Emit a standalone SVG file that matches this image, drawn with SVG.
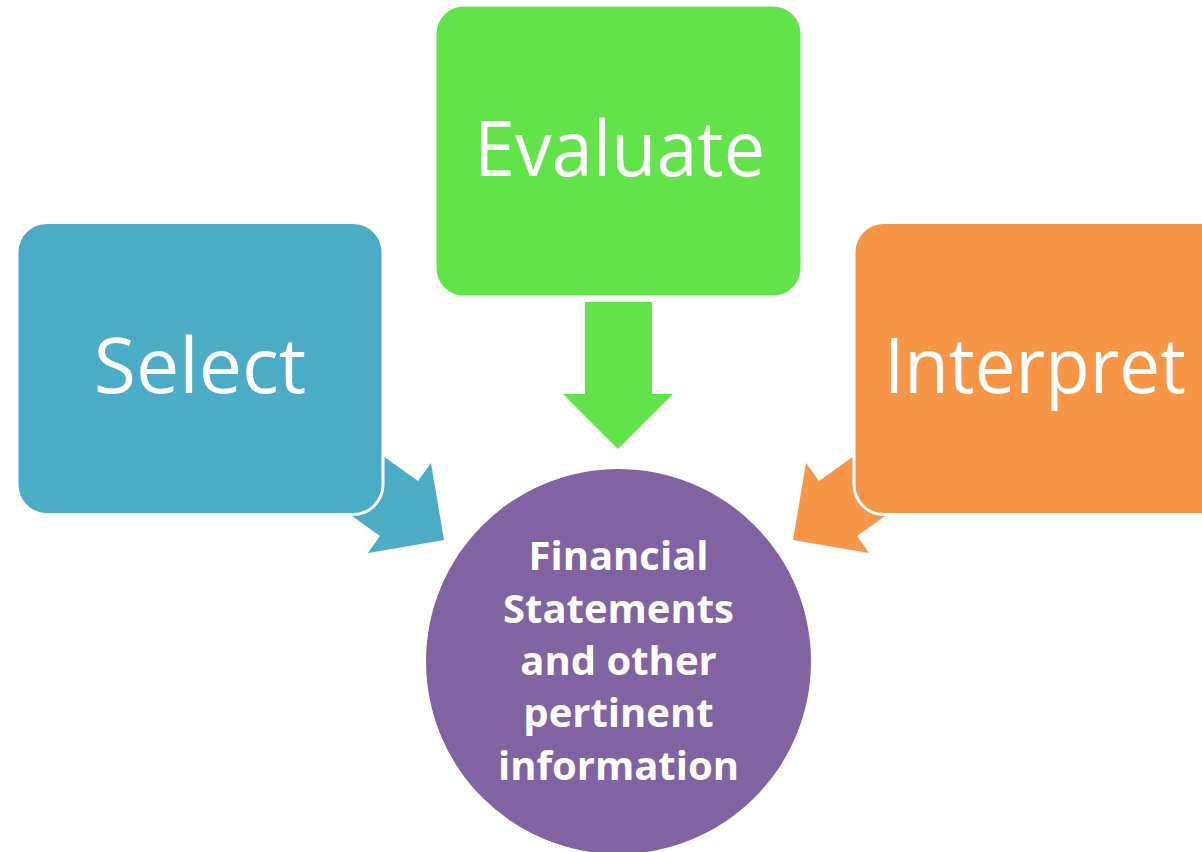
<svg xmlns="http://www.w3.org/2000/svg" width="1202" height="852" viewBox="0 0 1202 852">
<style>
.box{stroke:#FFFFFF;stroke-width:3}
.lbl{font-family:"Open Sans","Liberation Sans",sans-serif;font-size:77px;fill:#FFFFFF}
.ctr{font-family:"Open Sans","Liberation Sans",sans-serif;font-size:40px;font-weight:bold;fill:#FFFFFF;text-anchor:middle}
</style>
<rect width="1202" height="852" fill="#FFFFFF"/>
<g id="connectors">
<polygon id="arrow-select" fill="#4BACC6" points="369,446 418,481 431,463 444,540 368,553 380,536 331,501"/>
<polygon id="arrow-interpret" fill="#F79646" points="868,446 819,481 806,463 793,540 869,553 857,536 906,501"/>
<polygon id="arrow-evaluate" fill="#62E34A" points="585,302 652,302 652,394 673,394 618,449 563,394 585,394"/>
</g>
<g id="select">
<rect class="box" x="17" y="222.5" width="366" height="292" rx="30" fill="#4BACC6"/>
<text class="lbl" x="200" y="393" text-anchor="middle">Select</text>
</g>
<g id="evaluate">
<rect class="box" x="435" y="5" width="367" height="292" rx="29" fill="#62E34A"/>
<text class="lbl" x="619.5" y="176" text-anchor="middle" textLength="291" lengthAdjust="spacingAndGlyphs">Evaluate</text>
</g>
<g id="interpret">
<rect class="box" x="854" y="222.5" width="380" height="292" rx="30" fill="#F79646"/>
<text class="lbl" x="884" y="393" textLength="302" lengthAdjust="spacingAndGlyphs">Interpret</text>
</g>
<g id="financial-statements">
<circle cx="618.5" cy="661.5" r="192.5" fill="#8064A2"/>
<text class="ctr" x="618.5" y="570">Financial</text>
<text class="ctr" x="618.5" y="622.5">Statements</text>
<text class="ctr" x="618.5" y="675">and other</text>
<text class="ctr" x="618.5" y="727">pertinent</text>
<text class="ctr" x="618.5" y="780">information</text>
</g>
</svg>
